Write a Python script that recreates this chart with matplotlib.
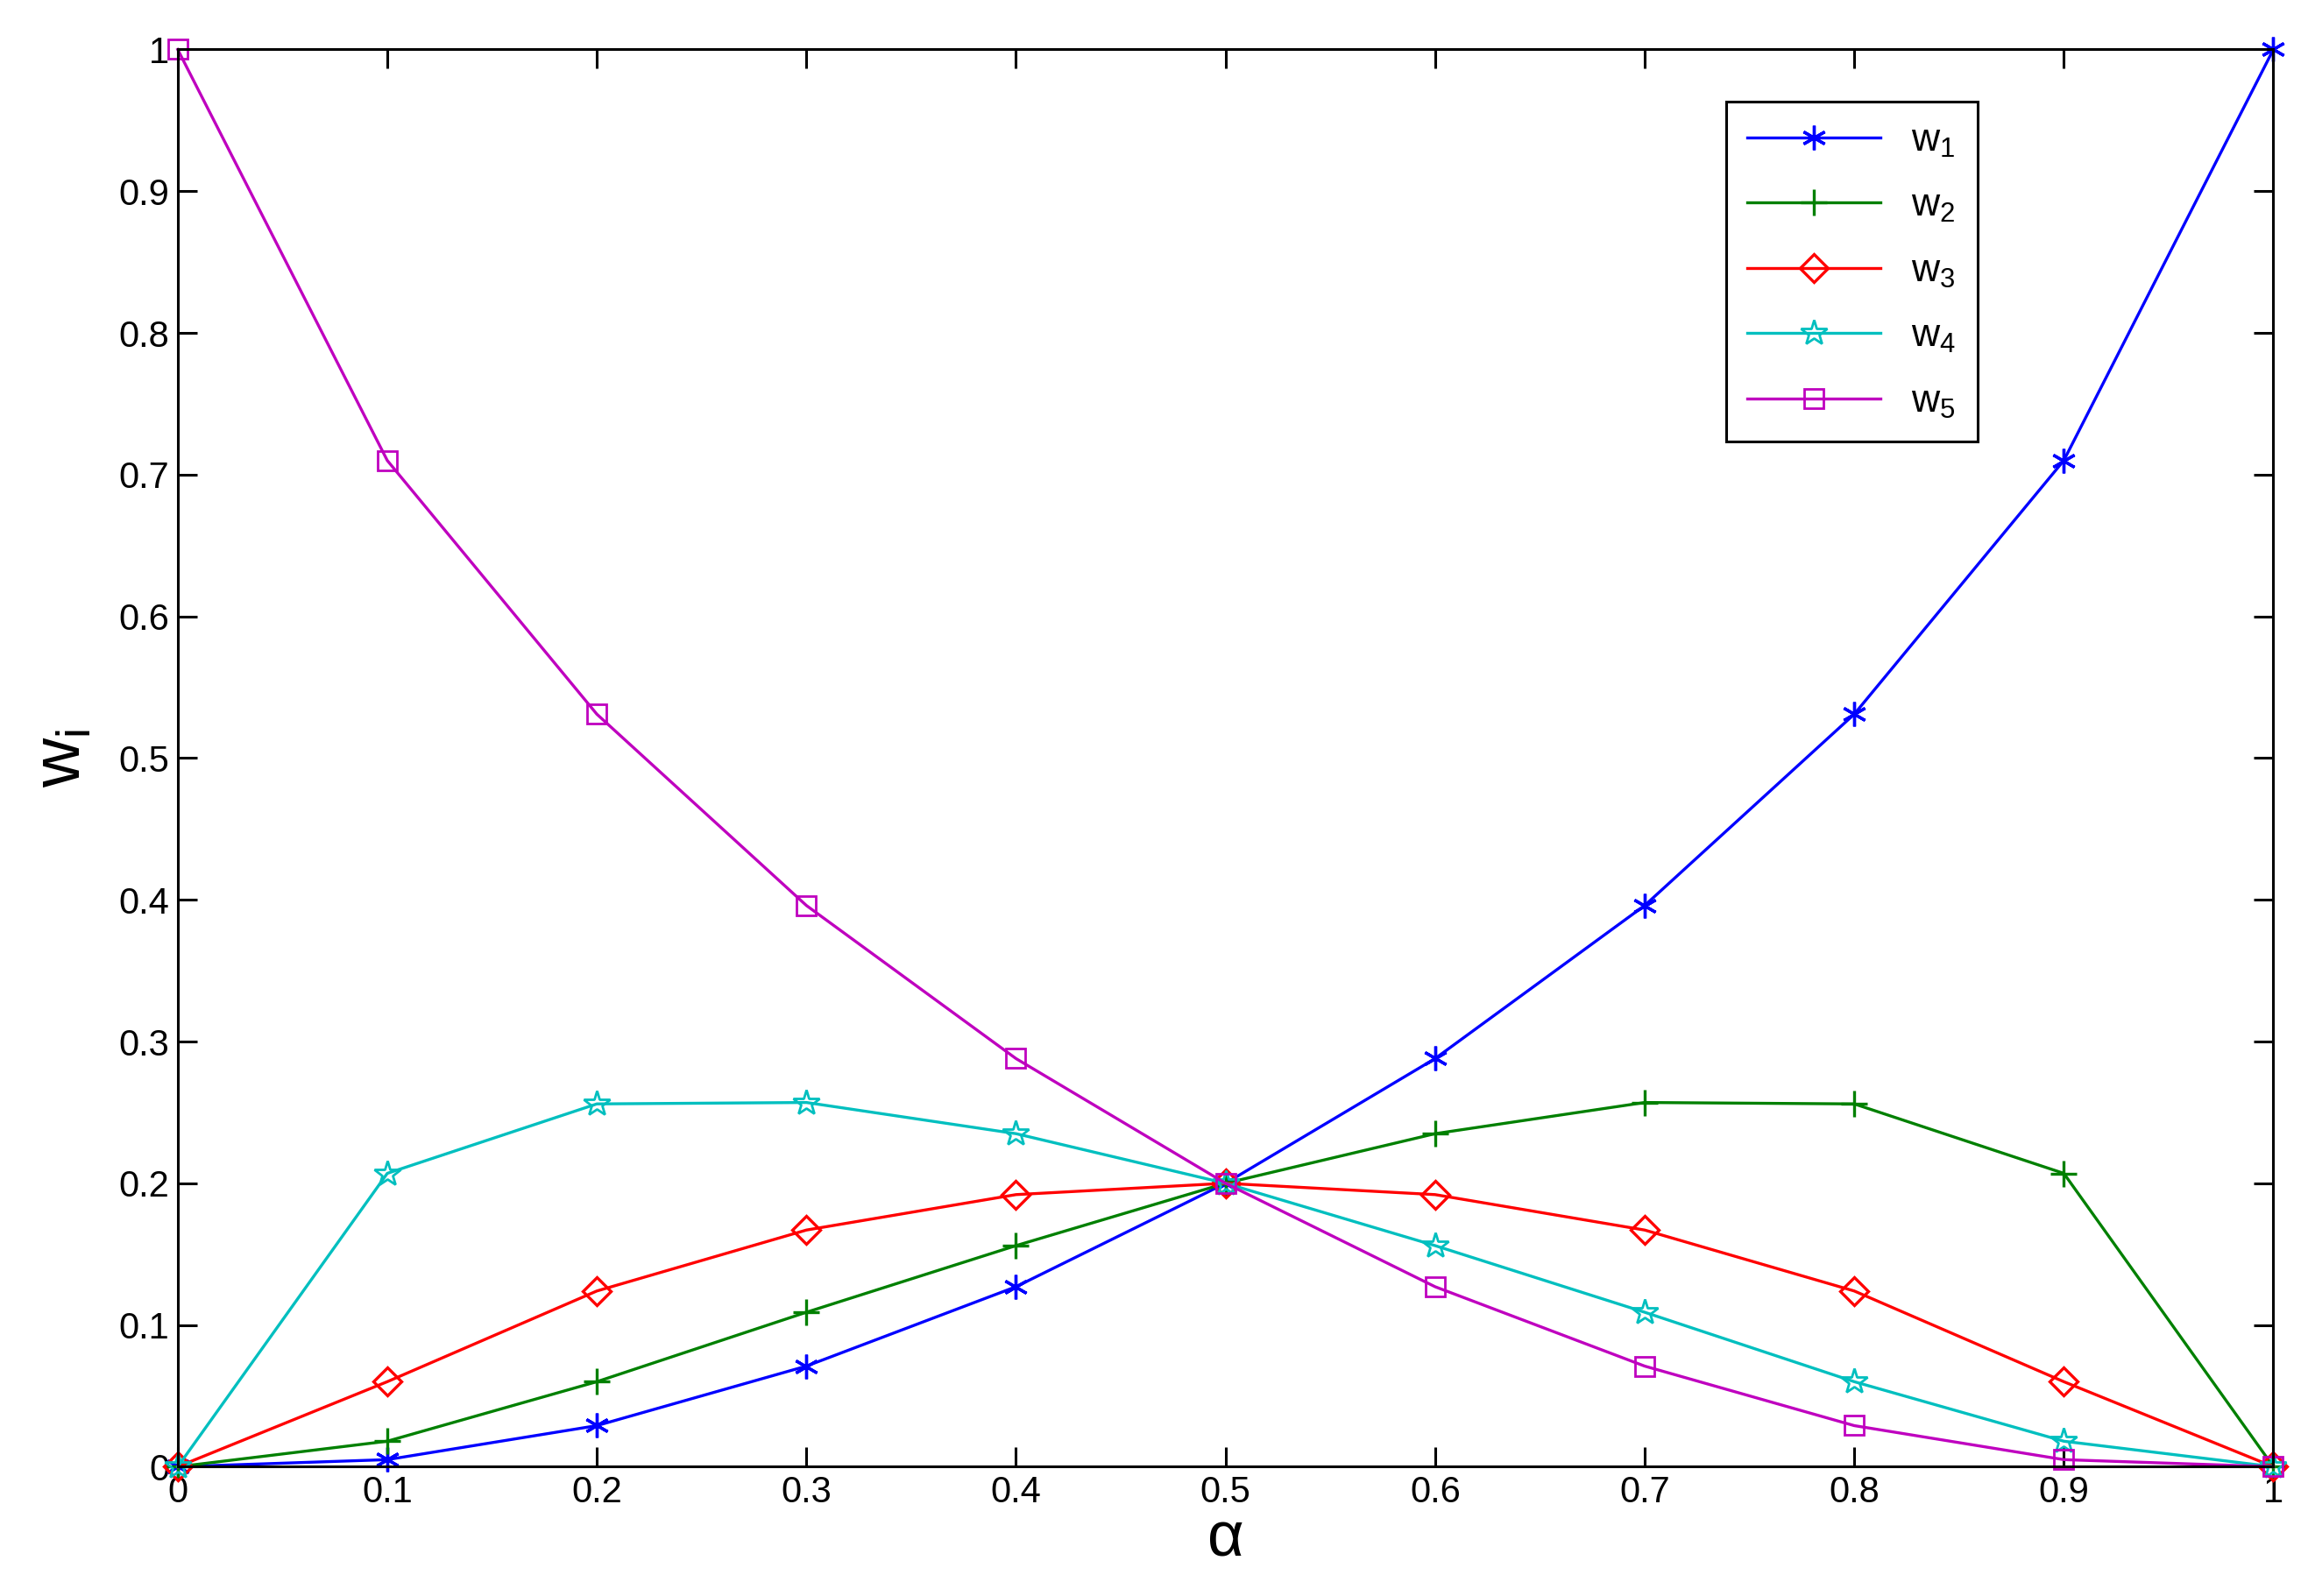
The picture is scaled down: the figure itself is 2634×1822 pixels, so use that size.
import matplotlib
matplotlib.use("Agg")
import matplotlib.pyplot as plt

plt.rcParams['font.family'] = ['Liberation Sans', 'DejaVu Sans']

alpha = [0, 0.1, 0.2, 0.3, 0.4, 0.5, 0.6, 0.7, 0.8, 0.9, 1.0]
w1 = [0, 0.005, 0.029, 0.071, 0.127, 0.2, 0.288, 0.396, 0.531, 0.71, 1.0]
w2 = [0, 0.018, 0.06, 0.109, 0.156, 0.2, 0.235, 0.257, 0.256, 0.207, 0]
w3 = [0, 0.06, 0.124, 0.167, 0.192, 0.2, 0.192, 0.167, 0.124, 0.06, 0]
w4 = [0, 0.207, 0.256, 0.257, 0.235, 0.2, 0.156, 0.109, 0.06, 0.018, 0]
w5 = [1.0, 0.71, 0.531, 0.396, 0.288, 0.2, 0.127, 0.071, 0.029, 0.005, 0]
labels = ['$\\mathregular{w_1}$', '$\\mathregular{w_2}$', '$\\mathregular{w_3}$',
          '$\\mathregular{w_4}$', '$\\mathregular{w_5}$']

fig = plt.figure(figsize=(13.17, 9.11), dpi=200)
ax = fig.add_axes([0.077, 0.081, 0.908, 0.888])

styles = [('#0000ff', 'ast'), ('#008000', '+'), ('#ff0000', 'D'), ('#00bfbf', '*'), ('#bf00bf', 's')]
for ys, lab, (c, m) in zip([w1, w2, w3, w4, w5], labels, styles):
    kw = dict(color=c, lw=1.2, label=lab, clip_on=False)
    if m == 'ast':
        kw.update(marker=(6, 2, 0), markersize=10, markeredgewidth=1.2)
    elif m == '*':
        kw.update(marker='*', markersize=11, markerfacecolor='none', markeredgewidth=1.0)
    elif m == '+':
        kw.update(marker='+', markersize=11, markeredgewidth=1.2)
    elif m == 'D':
        kw.update(marker='D', markersize=8, markerfacecolor='none', markeredgewidth=1.2)
    else:
        kw.update(marker='s', markersize=8, markerfacecolor='none', markeredgewidth=1.0)
    ax.plot(alpha, ys, **kw)

ticklabs = ['0', '0.1', '0.2', '0.3', '0.4', '0.5', '0.6', '0.7', '0.8', '0.9', '1']
ax.set_xlim(0, 1)
ax.set_ylim(0, 1)
ax.set_xticks(alpha)
ax.set_xticklabels(ticklabs)
ax.set_yticks(alpha)
ax.set_yticklabels(ticklabs)
ax.tick_params(direction='in', top=True, right=True, labelsize=15, length=8, width=1.1)
for s in ax.spines.values():
    s.set_linewidth(1.1)
ax.set_xlabel('α', fontsize=26, labelpad=0)
ax.set_ylabel('$\\mathregular{w_i}$', fontsize=28, labelpad=10)

leg = ax.legend(loc='upper right', bbox_to_anchor=(0.868, 0.977), fontsize=16, fancybox=False,
                edgecolor='black', framealpha=1, handlelength=3.4, labelspacing=0.75, borderpad=0.55)
leg.get_frame().set_linewidth(1.1)

fig.savefig('out.png', dpi=200)
